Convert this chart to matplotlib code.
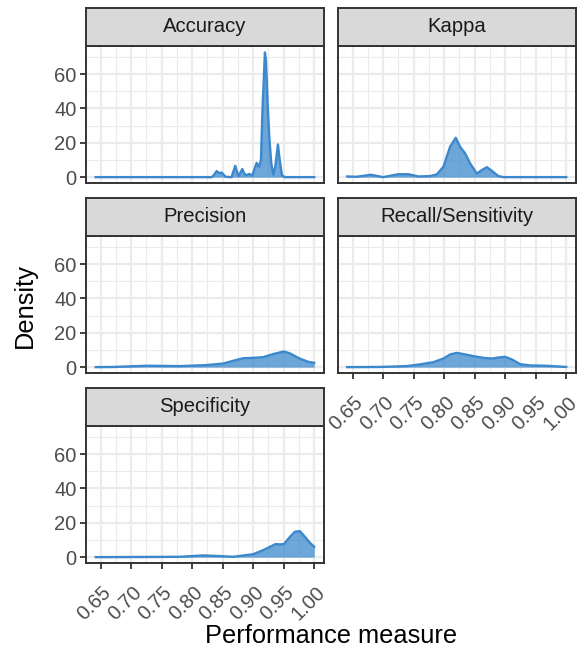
import matplotlib
matplotlib.use("Agg")
import matplotlib.pyplot as plt
import matplotlib.transforms as mtransforms
import numpy as np

plt.rcParams['font.family'] = ['Liberation Sans', 'DejaVu Sans']

# ---- data ----
panels = ["Accuracy", "Kappa", "Precision", "Recall/Sensitivity", "Specificity"]

acc_x = [0.6418, 0.8318, 0.8357, 0.8400, 0.8444, 0.8482, 0.8548, 0.8646, 0.8673, 0.8706,
         0.8739, 0.8766, 0.8793, 0.8821, 0.8848, 0.8881, 0.8935, 0.8985, 0.9023, 0.9056,
         0.9094, 0.9127, 0.9154, 0.9192, 0.9209, 0.9236, 0.9263, 0.9296, 0.9329, 0.9361,
         0.9405, 0.9438, 0.9471, 0.9514, 1.0]
acc_y = [0.0, 0.0, 1.2, 3.5, 2.3, 2.7, 0.2, 0.0, 3.1, 6.6,
         2.5, 0.6, 2.9, 4.7, 2.5, 1.0, 1.9, 0.8, 5.0, 8.3,
         6.0, 9.9, 41.0, 72.6, 68.1, 42.9, 23.5, 8.0, 1.4, 6.0,
         19.0, 8.9, 1.2, 0.0, 0.0]

kap_x = [0.6411, 0.6566, 0.6795, 0.7000, 0.7248, 0.7413, 0.7577, 0.7768, 0.7878, 0.7987,
         0.8097, 0.8190, 0.8260, 0.8343, 0.8425, 0.8534, 0.8617, 0.8699, 0.8780, 0.8889,
         0.8970, 1.0]
kap_y = [0.4, 0.2, 1.4, 0.0, 1.7, 1.7, 0.4, 0.6, 1.6, 6.0,
         17.7, 22.9, 17.7, 13.8, 8.0, 2.1, 4.1, 5.8, 3.7, 0.6,
         0.0, 0.0]

pre_x = [0.6420, 0.6707, 0.7253, 0.7800, 0.8237, 0.8509, 0.8673, 0.8837, 0.9000, 0.9164,
         0.9328, 0.9503, 0.9602, 0.9766, 0.9902, 1.0]
pre_y = [0.0, 0.1, 0.8, 0.6, 1.2, 2.1, 3.7, 5.2, 5.4, 5.8,
         7.6, 9.1, 8.0, 4.9, 3.1, 2.5]

rec_x = [0.6410, 0.6948, 0.7386, 0.7604, 0.7823, 0.7987, 0.8097, 0.8206, 0.8315, 0.8479,
         0.8643, 0.8780, 0.8889, 0.8999, 0.9108, 0.9245, 0.9409, 0.9683, 1.0]
rec_y = [0.0, 0.1, 0.6, 1.6, 2.9, 5.0, 7.4, 8.3, 7.6, 6.4,
         5.4, 5.0, 5.6, 6.0, 4.5, 1.7, 1.0, 0.8, 0.1]

spe_x = [0.6420, 0.7253, 0.7800, 0.8181, 0.8455, 0.8673, 0.9000, 0.9164, 0.9274, 0.9367,
         0.9438, 0.9503, 0.9602, 0.9684, 0.9766, 0.9848, 0.9930, 1.0]
spe_y = [0.0, 0.1, 0.2, 1.0, 0.6, 0.2, 1.7, 4.1, 6.0, 7.6,
         7.4, 7.6, 11.8, 14.8, 15.1, 11.8, 8.3, 6.0]

series = [(acc_x, acc_y), (kap_x, kap_y), (pre_x, pre_y), (rec_x, rec_y), (spe_x, spe_y)]

x_major = [0.65, 0.70, 0.75, 0.80, 0.85, 0.90, 0.95, 1.00]
x_minor = [0.675, 0.725, 0.775, 0.825, 0.875, 0.925, 0.975]
x_labels = ["0.65", "0.70", "0.75", "0.80", "0.85", "0.90", "0.95", "1.00"]
y_major = [0, 20, 40, 60]
y_minor = [10, 30, 50, 70]
y_labels = ["0", "20", "40", "60"]

# ---- styling ----
W, H = 581, 652
DPI = 100
LINE = "#3C88CC"
GRID = "#EBEBEB"
DARK = "#333333"
TICKTXT = "#4D4D4D"

fig = plt.figure(figsize=(W / DPI, H / DPI), dpi=DPI)
fig.patch.set_facecolor("white")

def rect(l, t, r, b):
    return [l / W, 1 - b / H, (r - l) / W, (b - t) / H]

cols = [(86, 324), (338, 576)]
rows = [(46, 183.4), (236, 373.4), (426, 563.4)]
strip_h = 38.5

positions = [(0, 0), (0, 1), (1, 0), (1, 1), (2, 0)]
xlim = (0.626, 1.016)
ylim = (-3.64, 76.3)

label_shift = mtransforms.ScaledTranslation(1 / DPI, -10 / DPI, fig.dpi_scale_trans)

for name, (xs, ys), (r, c) in zip(panels, series, positions):
    l, rgt = cols[c]
    t, b = rows[r]
    ax = fig.add_axes(rect(l, t, rgt, b))
    ax.set_xlim(*xlim)
    ax.set_ylim(*ylim)
    for v in x_minor:
        ax.axvline(v, color=GRID, lw=0.8, zorder=0)
    for v in y_minor:
        ax.axhline(v, color=GRID, lw=0.8, zorder=0)
    for v in x_major:
        ax.axvline(v, color=GRID, lw=1.6, zorder=0)
    for v in y_major:
        ax.axhline(v, color=GRID, lw=1.6, zorder=0)
    ax.fill_between(xs, 0, ys, color=LINE, alpha=0.75, lw=0, zorder=2)
    ax.plot(xs, ys, color=LINE, lw=1.7, zorder=3, solid_joinstyle="round")
    for sp in ax.spines.values():
        sp.set_color(DARK)
        sp.set_linewidth(1.4)
        sp.set_zorder(5)
    ax.set_xticks(x_major)
    ax.set_yticks(y_major)
    ax.tick_params(axis="both", length=4.3, width=1.3, color=DARK,
                   labelsize=14.5, labelcolor=TICKTXT, pad=2.5)
    show_x = (r == 2) or (r == 1 and c == 1)
    if show_x:
        ax.set_xticklabels(x_labels, rotation=45, ha="right", va="top",
                           rotation_mode="anchor")
        for lab in ax.get_xticklabels():
            lab.set_transform(lab.get_transform() + label_shift)
    else:
        ax.tick_params(axis="x", length=0, labelbottom=False)
    if c == 0:
        ax.set_yticklabels(y_labels)
    else:
        ax.tick_params(axis="y", length=0, labelleft=False)

    # strip
    sax = fig.add_axes(rect(l, t - strip_h, rgt, t))
    sax.set_facecolor("#D9D9D9")
    sax.set_xticks([])
    sax.set_yticks([])
    for sp in sax.spines.values():
        sp.set_color(DARK)
        sp.set_linewidth(1.4)
    sax.text(0.5, 0.5, name, ha="center", va="center", fontsize=14.6,
             color="#1A1A1A", transform=sax.transAxes)

fig.text(331 / W, 1 - 636 / H, "Performance measure", ha="center", va="center",
         fontsize=18.3, color="black")
fig.text(25 / W, 1 - 305 / H, "Density", ha="center", va="center",
         fontsize=18.3, color="black", rotation=90)

fig.savefig("out.png", dpi=DPI, facecolor="white")
